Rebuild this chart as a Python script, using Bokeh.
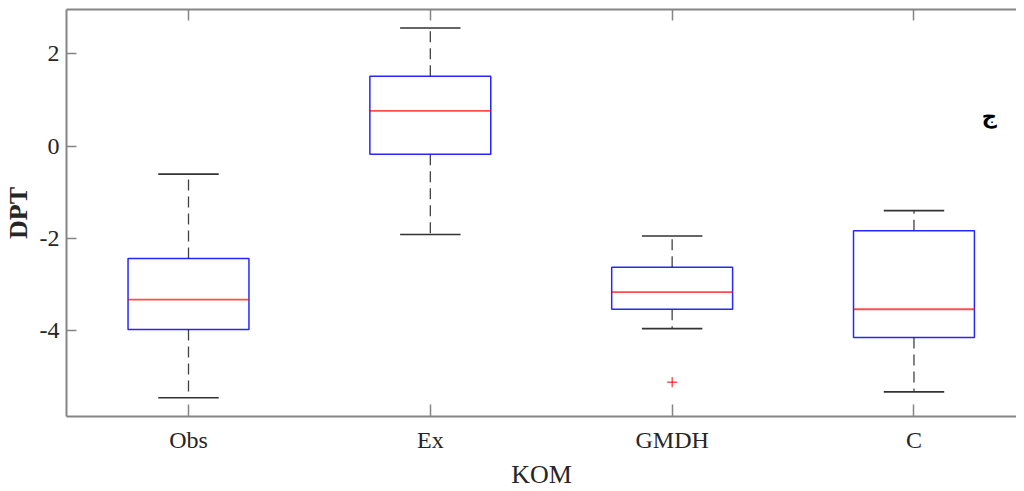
from bokeh.plotting import figure
from bokeh.models import Range1d, FixedTicker, LinearAxis, Label, ColumnDataSource
from bokeh.embed import file_html
from bokeh.resources import INLINE

# ---- data ----
categories = ["Obs", "Ex", "GMDH", "C"]
upper_whisker = [-0.61, 2.56, -1.95, -1.40]
q3 = [-2.44, 1.51, -2.63, -1.84]
median = [-3.33, 0.76, -3.17, -3.54]
q1 = [-3.98, -0.18, -3.54, -4.15]
lower_whisker = [-5.46, -1.92, -3.96, -5.33]
outlier_category = ["GMDH"]
outlier_value = [-5.12]
y_ticks = [-4, -2, 0, 2]
y_tick_labels = ["-4", "-2", "0", "2"]
x_label = "KOM"
y_label = "DPT"
corner_note = "ج"

FONT = "Liberation Serif"
TXT = "#262626"
AX = "#858585"
BOX_W = 0.5
CAP_W = 0.25

pos = list(range(1, len(categories) + 1))
src = ColumnDataSource(dict(
    x=pos,
    left=[p_ - BOX_W / 2 for p_ in pos],
    right=[p_ + BOX_W / 2 for p_ in pos],
    cl=[p_ - CAP_W / 2 for p_ in pos],
    cr=[p_ + CAP_W / 2 for p_ in pos],
    uw=upper_whisker, q3=q3, med=median, q1=q1, lw=lower_whisker,
))

p = figure(width=1016, height=491, output_backend="svg", toolbar_location=None,
           x_range=Range1d(0.4955, 4.424), y_range=Range1d(-5.865, 2.96),
           min_border_left=59, min_border_right=0, min_border_top=9,
           min_border_bottom=74)
p.outline_line_color = None
p.grid.visible = False
p.background_fill_color = "white"
p.border_fill_color = "white"

# whiskers (dashed) and caps
p.segment(x0="x", y0="q3", x1="x", y1="uw", source=src, line_color="black",
          line_alpha=0.75, line_width=1.3, line_dash="11 6")
p.segment(x0="x", y0="q1", x1="x", y1="lw", source=src, line_color="black",
          line_alpha=0.75, line_width=1.3, line_dash="11 6")
p.segment(x0="cl", y0="uw", x1="cr", y1="uw", source=src, line_color="#333333",
          line_width=1.6)
p.segment(x0="cl", y0="lw", x1="cr", y1="lw", source=src, line_color="#333333",
          line_width=1.6)
# boxes
p.quad(left="left", right="right", bottom="q1", top="q3", source=src,
       fill_color=None, line_color="#0000ff", line_alpha=0.85, line_width=1.5)
# medians
p.segment(x0="left", y0="med", x1="right", y1="med", source=src,
          line_color="#ff0000", line_alpha=0.7, line_width=1.8)
# outliers
p.scatter(x=[categories.index(c) + 1 for c in outlier_category], y=outlier_value,
          marker="cross", size=10, line_color="red", line_width=1)

# axes
xa = p.xaxis[0]
xa.ticker = FixedTicker(ticks=pos)
xa.major_label_overrides = {i + 1: c for i, c in enumerate(categories)}
xa.minor_tick_line_color = None
xa.major_tick_in = 12
xa.major_tick_out = 0
xa.major_label_standoff = 10
xa.axis_label = x_label
xa.axis_label_standoff = 4
ya = p.yaxis[0]
ya.ticker = FixedTicker(ticks=y_ticks)
ya.major_label_overrides = {t: s for t, s in zip(y_ticks, y_tick_labels)}
ya.minor_tick_line_color = None
ya.major_tick_in = 10
ya.major_tick_out = 0
ya.major_label_standoff = 7
ya.axis_label = y_label
ya.axis_label_standoff = 4
ya.axis_label_text_font_style = "bold"
for ax in (xa, ya):
    ax.axis_line_color = AX
    ax.axis_line_width = 2
    ax.major_tick_line_color = AX
    ax.major_tick_line_width = 1.5
    ax.major_label_text_font = FONT
    ax.major_label_text_font_size = "24px"
    ax.major_label_text_color = TXT
    ax.axis_label_text_font = FONT
    ax.axis_label_text_font_size = "26px"
    ax.axis_label_text_color = TXT
xa.axis_label_text_font_style = "normal"

# top frame edge with inward ticks (no labels)
top = LinearAxis(ticker=FixedTicker(ticks=pos), major_tick_in=11, major_tick_out=0,
                 major_label_text_color=None, major_label_text_font_size="1px",
                 major_label_standoff=0,
                 minor_tick_line_color=None, axis_line_color=AX, axis_line_width=2,
                 major_tick_line_color=AX, major_tick_line_width=1.5)
p.add_layout(top, "above")

p.add_layout(Label(x=4.312, y=0.64, text=corner_note, text_font="DejaVu Sans",
                   text_font_size="21px", text_font_style="bold", text_color="black",
                   text_align="center", text_baseline="middle"))

open("out.html", "w").write(file_html(p, INLINE))
